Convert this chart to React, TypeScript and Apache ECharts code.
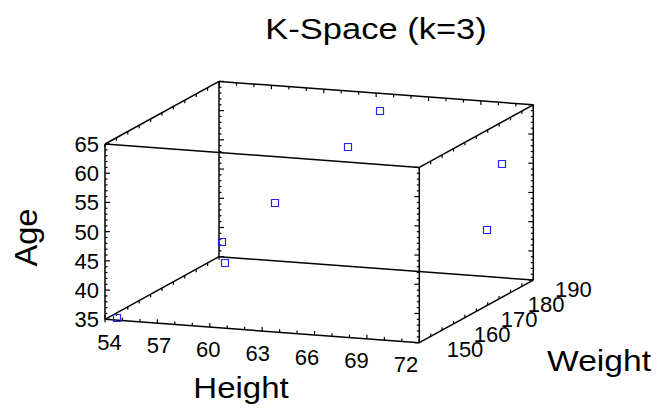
import React, { useEffect, useRef } from "react";
import * as echarts from "echarts";

// Observations: height, weight and age of each case
const heights = [54.5, 55, 56, 60.5, 62.2, 63.2, 71, 71];
const weights = [151, 185, 180, 170, 185, 190, 185, 180];
const ages = [35, 39, 37, 51, 57, 62, 56, 46];

// Axis tick labels
const heightTicks = [54, 57, 60, 63, 66, 69, 72];
const weightTicks = [150, 160, 170, 180, 190];
const ageTicks = [35, 40, 45, 50, 55, 60, 65];

const chartTitle = "K-Space (k=3)";
const heightName = "Height";
const weightName = "Weight";
const ageName = "Age";

const W = 657;
const H = 410;
const FONT = '"Liberation Sans", Arial, Helvetica, sans-serif';

const hMin = heightTicks[0];
const hMax = heightTicks[heightTicks.length - 1];
const wMin = weightTicks[0];
const wMax = weightTicks[weightTicks.length - 1];
const aMin = ageTicks[0];
const aMax = ageTicks[ageTicks.length - 1];

// Oblique projection of the data cube onto the plane
const ORIGIN = [105, 319.3];
const VH = [314.3, 23.4];
const VW = [114, -62.6];
const VA = [0, -175.3];

function project(h: number, w: number, a: number): number[] {
  const u = (h - hMin) / (hMax - hMin);
  const v = (w - wMin) / (wMax - wMin);
  const t = (a - aMin) / (aMax - aMin);
  return [
    ORIGIN[0] + u * VH[0] + v * VW[0] + t * VA[0],
    ORIGIN[1] + u * VH[1] + v * VW[1] + t * VA[1],
  ];
}

// 12 cube edges
function cubeEdges(): number[][] {
  const hs = [hMin, hMax];
  const ws = [wMin, wMax];
  const as = [aMin, aMax];
  const edges: number[][] = [];
  for (const w of ws) for (const a of as) edges.push([hMin, w, a, hMax, w, a]);
  for (const h of hs) for (const a of as) edges.push([h, wMin, a, h, wMax, a]);
  for (const h of hs) for (const w of ws) edges.push([h, w, aMin, h, w, aMax]);
  return edges;
}

// Tick marks: [h, w, a, dirX, dirY, length]
function cubeTicks(): number[][] {
  const out: number[][] = [];
  for (let a = aMin; a <= aMax; a += 1) {
    const len = (a - aMin) % 5 === 0 ? 5 : 2.5;
    out.push([hMin, wMin, a, 1, 0, len]);
    out.push([hMin, wMax, a, 1, 0, len]);
    out.push([hMax, wMin, a, -1, 0, len]);
    out.push([hMax, wMax, a, -1, 0, len]);
  }
  for (let h = hMin; h <= hMax; h += 1) {
    const len = (h - hMin) % 3 === 0 ? 4 : 3;
    out.push([h, wMin, aMin, 0, -1, len]);
    out.push([h, wMax, aMax, 0, 1, len]);
  }
  for (let w = wMin; w <= wMax; w += 4) {
    out.push([hMin, w, aMin, 0, 1, 3]);
    out.push([hMin, w, aMax, 0, 1, 3]);
    out.push([hMax, w, aMax, 0, 1, 3]);
    out.push([hMax, w, aMin, 0, -1, 3]);
  }
  return out;
}

export default function App() {
  const ref = useRef<HTMLDivElement>(null);

  useEffect(() => {
    if (!ref.current) return;
    const chart = echarts.init(ref.current, undefined, { renderer: "svg" });

    const points = heights.map((h, i) => [h, weights[i], ages[i]]);

    const textEl = (
      x: number,
      y: number,
      text: string,
      fontSize: number,
      align: string,
      extra: any = {}
    ) => ({
      type: "text",
      x,
      y,
      ...extra,
      style: {
        text,
        fill: "#000",
        fontSize,
        fontFamily: FONT,
        align,
        verticalAlign: "middle",
      },
    });

    const option: any = {
      animation: false,
      backgroundColor: "#fff",
      grid: { left: 0, top: 0, width: W, height: H, show: false },
      xAxis: { type: "value", min: 0, max: W, show: false },
      yAxis: { type: "value", min: 0, max: H, inverse: true, show: false },
      series: [
        {
          name: "edges",
          type: "custom",
          silent: true,
          data: cubeEdges(),
          renderItem: (_p: any, api: any) => {
            const p1 = api.coord(project(api.value(0), api.value(1), api.value(2)));
            const p2 = api.coord(project(api.value(3), api.value(4), api.value(5)));
            return {
              type: "line",
              shape: { x1: p1[0], y1: p1[1], x2: p2[0], y2: p2[1] },
              style: { stroke: "#000", lineWidth: 1.5 },
            };
          },
        },
        {
          name: "ticks",
          type: "custom",
          silent: true,
          data: cubeTicks(),
          renderItem: (_p: any, api: any) => {
            const p = api.coord(project(api.value(0), api.value(1), api.value(2)));
            const len = api.value(5);
            return {
              type: "line",
              shape: {
                x1: p[0],
                y1: p[1],
                x2: p[0] + api.value(3) * len,
                y2: p[1] + api.value(4) * len,
              },
              style: { stroke: "#000", lineWidth: 1.2 },
            };
          },
        },
        {
          name: "cases",
          type: "custom",
          data: points,
          renderItem: (_p: any, api: any) => {
            const p = api.coord(project(api.value(0), api.value(1), api.value(2)));
            return {
              type: "rect",
              shape: { x: Math.round(p[0]) - 3.5, y: Math.round(p[1]) - 3.5, width: 7, height: 7 },
              style: { fill: "none", stroke: "#2323ff", lineWidth: 1.2 },
            };
          },
        },
        {
          name: "ageLabels",
          type: "custom",
          silent: true,
          data: ageTicks.map((a) => [a]),
          renderItem: (_p: any, api: any) => {
            const p = api.coord(project(hMin, wMin, api.value(0)));
            return textEl(p[0] - 6, p[1] + 0.5, String(api.value(0)), 22, "right");
          },
        },
        {
          name: "heightLabels",
          type: "custom",
          silent: true,
          data: heightTicks.map((h) => [h]),
          renderItem: (_p: any, api: any) => {
            const h = api.value(0);
            const p = api.coord(project(hMin + (h - hMin) * 0.943, wMin, aMin));
            return textEl(p[0] + 4.5, p[1] + 23, String(h), 22, "center");
          },
        },
        {
          name: "weightLabels",
          type: "custom",
          silent: true,
          data: weightTicks.map((w) => [w]),
          renderItem: (_p: any, api: any) => {
            const w = api.value(0);
            const p = api.coord(project(hMax, wMin + (w - wMin) * 0.95, aMin));
            return textEl(p[0] + 45.7, p[1] + 6.3, String(w), 22, "center");
          },
        },
      ],
      graphic: [
        textEl(376, 29, chartTitle, 30, "center", { scaleX: 1.15 }),
        textEl(241, 388, heightName, 30, "center", { scaleX: 1.1 }),
        textEl(599, 361, weightName, 30, "center", { scaleX: 1.12 }),
        textEl(26, 237.5, ageName, 31, "center", { rotation: Math.PI / 2, scaleX: 1.05 }),
      ],
    };

    chart.setOption(option);
    return () => chart.dispose();
  }, []);

  return (
    <div
      ref={ref}
      style={{ position: "fixed", left: 0, top: 0, width: W, height: H, background: "#fff" }}
    />
  );
}
